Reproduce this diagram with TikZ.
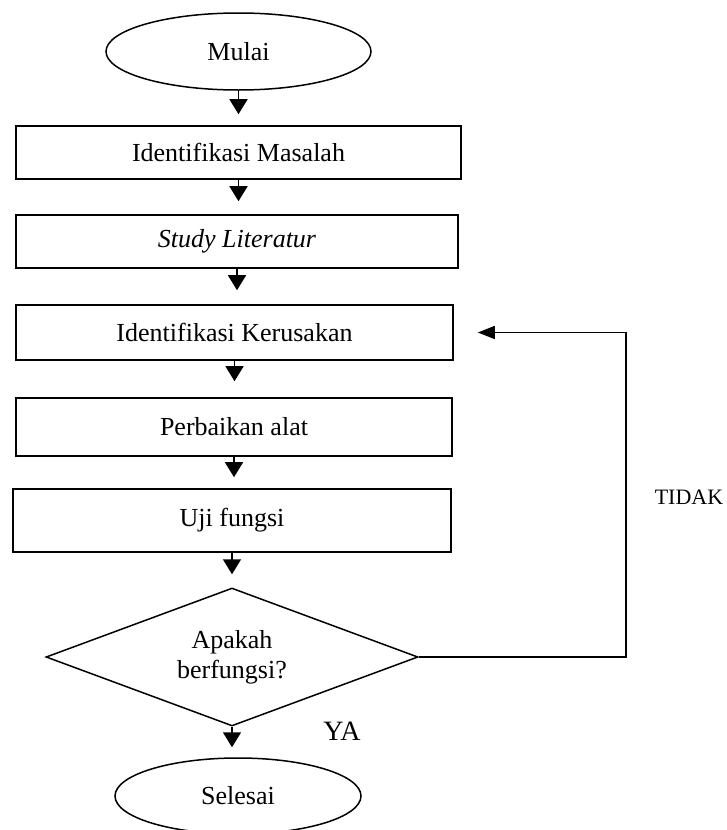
\documentclass[tikz,border=0pt]{standalone}
\usepackage{fontspec}
\setmainfont{Liberation Serif}
\usetikzlibrary{shapes.geometric,arrows.meta}
\begin{document}
\begin{tikzpicture}[x=1pt,y=-1pt,
  every node/.style={font=\fontsize{26}{30}\selectfont},
  procbox/.style={draw, line width=1.6pt, rectangle, inner sep=0pt},
  term/.style={draw, line width=1.5pt, ellipse, inner sep=0pt},
  decision/.style={draw, line width=1.5pt, diamond, aspect=2.7, inner sep=0pt, minimum width=372pt, minimum height=138pt, align=center},
  flow/.style={line width=1.6pt, -{Triangle[width=18pt,length=15pt]}},
  back/.style={line width=1.6pt, -{Triangle[width=13pt,length=17pt]}}
]
\useasboundingbox (0,0) rectangle (726,830);
\node[term, minimum width=265pt, minimum height=77pt] (start) at (238.5,51.5) {Mulai};
\node[procbox, minimum width=445pt, minimum height=53pt] (b1) at (238.5,152.5) {Identifikasi Masalah};
\node[procbox, minimum width=442pt, minimum height=53pt] (b2) at (237,241.5) {\itshape Study Literatur};
\node[procbox, minimum width=437pt, minimum height=55pt] (b3) at (234.5,332.5) {Identifikasi Kerusakan};
\node[procbox, minimum width=436pt, minimum height=58pt] (b4) at (234,427) {Perbaikan alat};
\node[procbox, minimum width=438pt, minimum height=63pt] (b5) at (232,520.5) {Uji fungsi};
\node[decision] (dec) at (232,657) {Apakah\\berfungsi?};
\node[term, minimum width=246pt, minimum height=76pt] (end) at (238,796) {Selesai};
\node[font=\fontsize{22}{26}\selectfont] (no) at (689,497) {TIDAK};
\node[font=\fontsize{28}{32}\selectfont] (yes) at (342,731) {YA};
\draw[flow, shorten >=11pt] (start.south) -- (start.south |- b1.north);
\draw[flow, shorten >=13pt] (b1.south) -- (b1.south |- b2.north);
\draw[flow, shorten >=14pt] (b2.south) -- (b2.south |- b3.north);
\draw[flow, shorten >=16pt] (b3.south) -- (b3.south |- b4.north);
\draw[flow, shorten >=11pt] (b4.south) -- (b4.south |- b5.north);
\draw[flow, shorten >=13pt] (b5.south) -- (b5.south |- dec.north);
\draw[flow, shorten >=10pt] (dec.south) -- (dec.south |- end.north);
\coordinate (turn) at (626,657);
\draw[back, shorten >=24pt] (dec.east) -- (turn) |- (b3.east);
\end{tikzpicture}
\end{document}
